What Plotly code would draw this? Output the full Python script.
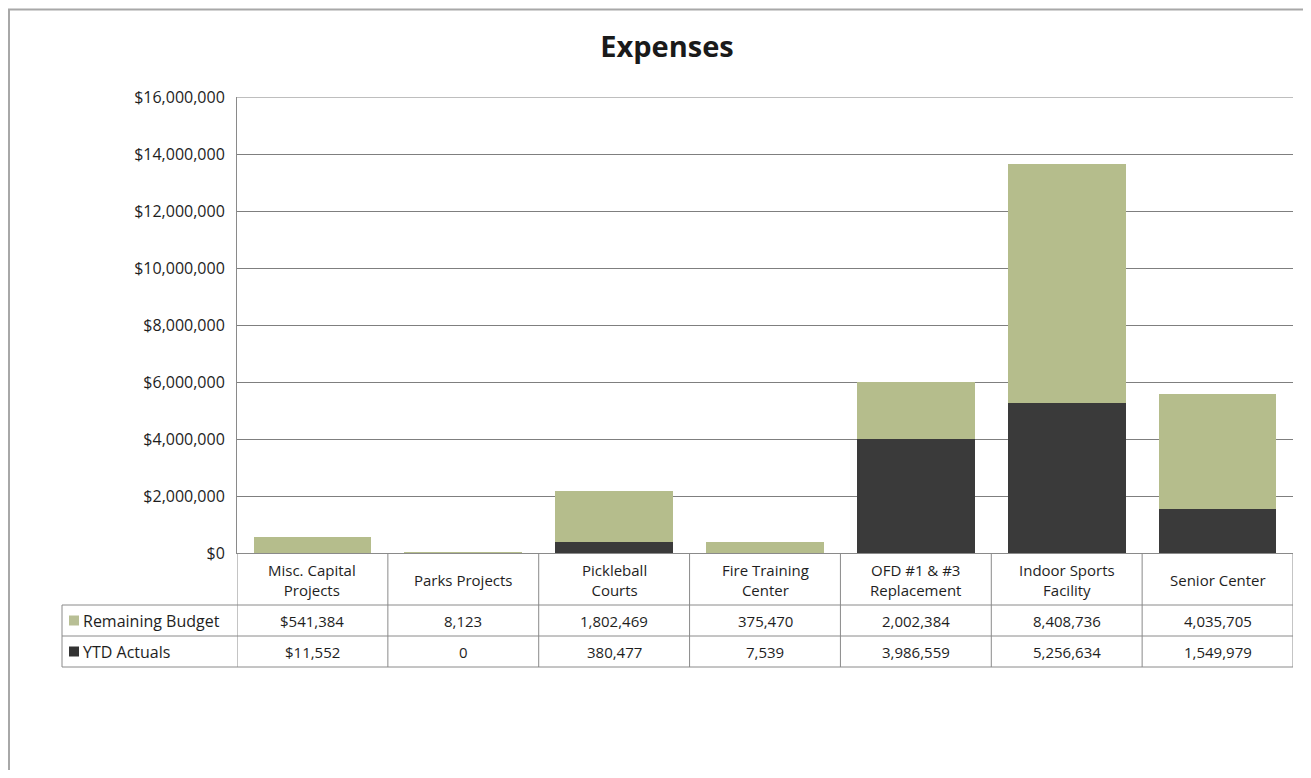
import plotly.graph_objects as go

categories = ["Misc. Capital<br>Projects", "Parks Projects", "Pickleball<br>Courts",
              "Fire Training<br>Center", "OFD #1 & #3<br>Replacement",
              "Indoor Sports<br>Facility", "Senior Center"]
remaining_budget = [541384, 8123, 1802469, 375470, 2002384, 8408736, 4035705]
ytd_actuals = [11552, 0, 380477, 7539, 3986559, 5256634, 1549979]
series_names = ["Remaining Budget", "YTD Actuals"]
y_ticks = [0, 2e6, 4e6, 6e6, 8e6, 10e6, 12e6, 14e6, 16e6]
y_tick_text = ["$" + f"{int(v):,}" for v in y_ticks]

GREEN = "#b5bd8c"
DARK = "#3a3a3a"
LINE = "#8a8a8a"
FONT = "Open Sans"
TXT = "#1e1e1e"

# page body has an 8px margin; work in reference-pixel coordinates and shift
OFF = 8
W, H = 1311 - OFF, 778 - 2 * OFF
L, R, T, B = 237, 1293, 97, 553


def px(x):
    return (x - L) / (R - L)


def py(y):
    return (B - y) / (B - T)


xs = list(range(len(categories)))

fig = go.Figure()
fig.add_trace(go.Bar(x=xs, y=ytd_actuals, name=series_names[1], marker_color=DARK,
                     marker_line_width=0))
fig.add_trace(go.Bar(x=xs, y=remaining_budget, name=series_names[0], marker_color=GREEN,
                     marker_line_width=0))


def fmt(v, i):
    s = f"{v:,}"
    return "$" + s if i == 0 else s


annotations = []
shapes = []

# header cells
for i, c in enumerate(categories):
    annotations.append(dict(x=i, xref="x", y=py(580), yref="paper", text=c,
                            showarrow=False, font=dict(size=15, family=FONT, color=TXT),
                            yanchor="middle", xanchor="center"))

row_y = [(605, 636), (636, 667)]
rows = [remaining_budget, ytd_actuals]
key_colors = ["#b8bf95", "#333333"]
for r, (vals, (y0, y1)) in enumerate(zip(rows, row_y)):
    yc = (y0 + y1) / 2
    for i, v in enumerate(vals):
        annotations.append(dict(x=i, xref="x", y=py(yc), yref="paper", text=fmt(v, i),
                                showarrow=False, font=dict(size=15, family=FONT, color=TXT),
                                yanchor="middle", xanchor="center"))
    annotations.append(dict(x=px(81), xref="paper", y=py(yc), yref="paper",
                            text=series_names[r], showarrow=False,
                            font=dict(size=16, family=FONT, color=TXT),
                            xanchor="left", yanchor="middle"))
    shapes.append(dict(type="rect", xref="paper", yref="paper",
                       x0=px(69), x1=px(79), y0=py(yc + 5), y1=py(yc - 5),
                       fillcolor=key_colors[r], line_width=0))

# top gridline at range edge
shapes.append(dict(type="line", xref="paper", yref="y", x0=0, x1=1,
                   y0=y_ticks[-1], y1=y_ticks[-1], line=dict(color="#7f7f7f", width=1)))

# table lines
for y in (605, 636, 667):
    shapes.append(dict(type="line", xref="paper", yref="paper", x0=px(62), x1=px(R),
                       y0=py(y), y1=py(y), line=dict(color=LINE, width=1)))
shapes.append(dict(type="line", xref="paper", yref="paper", x0=px(62), x1=px(62),
                   y0=py(605), y1=py(667), line=dict(color=LINE, width=1)))
for k in range(len(categories) + 1):
    shapes.append(dict(type="line", xref="x", yref="paper", x0=k - 0.5, x1=k - 0.5,
                       y0=0, y1=py(667), line=dict(color=LINE, width=1)))

# outer border
shapes.append(dict(type="rect", xref="paper", yref="paper", x0=px(9), x1=px(1308),
                   y0=py(800), y1=py(9.5), line=dict(color="#a8a8a8", width=2),
                   fillcolor="rgba(0,0,0,0)", layer="below"))

fig.update_layout(
    width=W, height=H,
    margin=dict(l=L - OFF, r=(1311 - OFF) - (R - OFF), t=T - OFF, b=H - (B - OFF)),
    paper_bgcolor="white", plot_bgcolor="white",
    barmode="stack", bargap=0.22, showlegend=False,
    title=dict(text="<b>Expenses</b>", x=(667 - OFF) / W, xref="container", xanchor="center",
               y=1 - (47 - OFF) / H, yref="container", yanchor="middle",
               font=dict(size=29, family=FONT, color="#1a1a1a")),
    font=dict(family=FONT, size=15, color=TXT),
    xaxis=dict(range=[-0.5, len(categories) - 0.5], showticklabels=False, showgrid=False,
               zeroline=False, showline=True, linecolor=LINE, linewidth=1, ticks=""),
    yaxis=dict(range=[0, 16e6], tickvals=y_ticks, ticktext=y_tick_text,
               showgrid=True, gridcolor="#7f7f7f", gridwidth=1, zeroline=False,
               showline=True, linecolor=LINE, linewidth=1, ticks="",
               ticklabelstandoff=8, tickfont=dict(size=16, family=FONT, color=TXT)),
    annotations=annotations, shapes=shapes,
)

fig.write_html("out.html")
